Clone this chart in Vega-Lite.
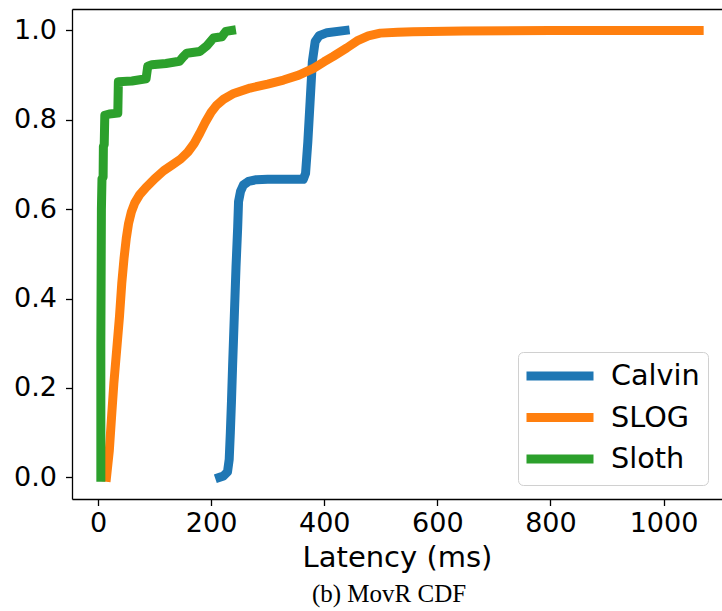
{
  "$schema": "https://vega.github.io/schema/vega-lite/v6.json",
  "width": 650,
  "height": 490,
  "autosize": {"type": "none"},
  "padding": {"left": 72, "top": 9, "right": 0, "bottom": 112},
  "background": "white",
  "config": {
    "view": {"stroke": null},
    "axis": {
      "domainColor": "#000000",
      "domainWidth": 1.3,
      "tickColor": "#000000",
      "tickWidth": 1.3,
      "tickSize": 6.5,
      "grid": false,
      "labelFont": "DejaVu Sans",
      "labelFontSize": 27,
      "labelColor": "#000000",
      "titleFont": "DejaVu Sans",
      "titleFontSize": 29,
      "titleFontWeight": "normal",
      "titleColor": "#000000"
    }
  },
  "title": {
    "text": "(b) MovR CDF",
    "orient": "bottom",
    "anchor": "middle",
    "font": "Liberation Serif",
    "fontSize": 25,
    "fontWeight": "normal",
    "color": "#000000",
    "offset": 9,
    "dx": -8
  },
  "data": {
    "values": [
      {"s": "Calvin", "i": 0, "x": 215, "p": 0.0},
      {"s": "Calvin", "i": 1, "x": 222, "p": 0.003},
      {"s": "Calvin", "i": 2, "x": 229, "p": 0.012},
      {"s": "Calvin", "i": 3, "x": 232, "p": 0.04},
      {"s": "Calvin", "i": 4, "x": 234, "p": 0.10},
      {"s": "Calvin", "i": 5, "x": 236, "p": 0.17},
      {"s": "Calvin", "i": 6, "x": 238, "p": 0.25},
      {"s": "Calvin", "i": 7, "x": 241, "p": 0.36},
      {"s": "Calvin", "i": 8, "x": 244, "p": 0.47},
      {"s": "Calvin", "i": 9, "x": 247, "p": 0.56},
      {"s": "Calvin", "i": 10, "x": 248.5, "p": 0.617},
      {"s": "Calvin", "i": 11, "x": 252, "p": 0.64},
      {"s": "Calvin", "i": 12, "x": 257, "p": 0.654},
      {"s": "Calvin", "i": 13, "x": 266, "p": 0.662},
      {"s": "Calvin", "i": 14, "x": 280, "p": 0.666},
      {"s": "Calvin", "i": 15, "x": 300, "p": 0.667},
      {"s": "Calvin", "i": 16, "x": 363, "p": 0.667},
      {"s": "Calvin", "i": 17, "x": 367, "p": 0.68},
      {"s": "Calvin", "i": 18, "x": 371, "p": 0.75},
      {"s": "Calvin", "i": 19, "x": 375, "p": 0.84},
      {"s": "Calvin", "i": 20, "x": 379, "p": 0.93},
      {"s": "Calvin", "i": 21, "x": 384, "p": 0.975},
      {"s": "Calvin", "i": 22, "x": 391, "p": 0.988},
      {"s": "Calvin", "i": 23, "x": 405, "p": 0.995},
      {"s": "Calvin", "i": 24, "x": 437, "p": 1.0},
      {"s": "SLOG", "i": 0, "x": 15, "p": 0.0},
      {"s": "SLOG", "i": 1, "x": 20, "p": 0.06},
      {"s": "SLOG", "i": 2, "x": 24, "p": 0.136},
      {"s": "SLOG", "i": 3, "x": 28, "p": 0.21},
      {"s": "SLOG", "i": 4, "x": 33, "p": 0.285},
      {"s": "SLOG", "i": 5, "x": 38, "p": 0.36},
      {"s": "SLOG", "i": 6, "x": 42, "p": 0.434},
      {"s": "SLOG", "i": 7, "x": 46, "p": 0.49},
      {"s": "SLOG", "i": 8, "x": 50, "p": 0.535},
      {"s": "SLOG", "i": 9, "x": 54, "p": 0.568},
      {"s": "SLOG", "i": 10, "x": 59, "p": 0.594},
      {"s": "SLOG", "i": 11, "x": 65, "p": 0.614},
      {"s": "SLOG", "i": 12, "x": 74, "p": 0.633},
      {"s": "SLOG", "i": 13, "x": 86, "p": 0.65},
      {"s": "SLOG", "i": 14, "x": 100, "p": 0.668},
      {"s": "SLOG", "i": 15, "x": 116, "p": 0.686},
      {"s": "SLOG", "i": 16, "x": 131, "p": 0.699},
      {"s": "SLOG", "i": 17, "x": 146, "p": 0.712},
      {"s": "SLOG", "i": 18, "x": 159, "p": 0.728},
      {"s": "SLOG", "i": 19, "x": 170, "p": 0.747},
      {"s": "SLOG", "i": 20, "x": 180, "p": 0.77},
      {"s": "SLOG", "i": 21, "x": 190, "p": 0.795},
      {"s": "SLOG", "i": 22, "x": 200, "p": 0.817},
      {"s": "SLOG", "i": 23, "x": 210, "p": 0.833},
      {"s": "SLOG", "i": 24, "x": 222, "p": 0.846},
      {"s": "SLOG", "i": 25, "x": 240, "p": 0.859},
      {"s": "SLOG", "i": 26, "x": 269, "p": 0.871},
      {"s": "SLOG", "i": 27, "x": 300, "p": 0.88},
      {"s": "SLOG", "i": 28, "x": 328, "p": 0.889},
      {"s": "SLOG", "i": 29, "x": 355, "p": 0.90},
      {"s": "SLOG", "i": 30, "x": 381, "p": 0.915},
      {"s": "SLOG", "i": 31, "x": 400, "p": 0.93},
      {"s": "SLOG", "i": 32, "x": 416, "p": 0.942},
      {"s": "SLOG", "i": 33, "x": 440, "p": 0.961},
      {"s": "SLOG", "i": 34, "x": 460, "p": 0.978},
      {"s": "SLOG", "i": 35, "x": 478, "p": 0.988},
      {"s": "SLOG", "i": 36, "x": 499, "p": 0.994},
      {"s": "SLOG", "i": 37, "x": 530, "p": 0.996},
      {"s": "SLOG", "i": 38, "x": 557, "p": 0.997},
      {"s": "SLOG", "i": 39, "x": 646, "p": 0.999},
      {"s": "SLOG", "i": 40, "x": 800, "p": 1.0},
      {"s": "SLOG", "i": 41, "x": 1063, "p": 1.0},
      {"s": "Sloth", "i": 0, "x": 5, "p": 0.0},
      {"s": "Sloth", "i": 1, "x": 5, "p": 0.3},
      {"s": "Sloth", "i": 2, "x": 6, "p": 0.6},
      {"s": "Sloth", "i": 3, "x": 7, "p": 0.668},
      {"s": "Sloth", "i": 4, "x": 9, "p": 0.672},
      {"s": "Sloth", "i": 5, "x": 9.5, "p": 0.74},
      {"s": "Sloth", "i": 6, "x": 11, "p": 0.745},
      {"s": "Sloth", "i": 7, "x": 12, "p": 0.81},
      {"s": "Sloth", "i": 8, "x": 20, "p": 0.813},
      {"s": "Sloth", "i": 9, "x": 35, "p": 0.815},
      {"s": "Sloth", "i": 10, "x": 36, "p": 0.885},
      {"s": "Sloth", "i": 11, "x": 60, "p": 0.887},
      {"s": "Sloth", "i": 12, "x": 85, "p": 0.892},
      {"s": "Sloth", "i": 13, "x": 88, "p": 0.92},
      {"s": "Sloth", "i": 14, "x": 95, "p": 0.923},
      {"s": "Sloth", "i": 15, "x": 120, "p": 0.926},
      {"s": "Sloth", "i": 16, "x": 144, "p": 0.931},
      {"s": "Sloth", "i": 17, "x": 150, "p": 0.94},
      {"s": "Sloth", "i": 18, "x": 157, "p": 0.949},
      {"s": "Sloth", "i": 19, "x": 180, "p": 0.953},
      {"s": "Sloth", "i": 20, "x": 192, "p": 0.965},
      {"s": "Sloth", "i": 21, "x": 204, "p": 0.983},
      {"s": "Sloth", "i": 22, "x": 219, "p": 0.986},
      {"s": "Sloth", "i": 23, "x": 226, "p": 0.998},
      {"s": "Sloth", "i": 24, "x": 236, "p": 1.0}
    ]
  },
  "layer": [
    {
      "mark": {"type": "line", "strokeWidth": 9, "strokeCap": "square", "strokeJoin": "round"},
      "encoding": {
        "x": {
          "field": "x", "type": "quantitative",
          "scale": {"domain": [-46, 1103.4], "nice": false, "zero": false},
          "axis": {"values": [0, 200, 400, 600, 800, 1000], "format": "d", "title": "Latency (ms)", "labelPadding": 5, "titlePadding": 7, "labelFlush": false, "labelOverlap": false}
        },
        "y": {
          "field": "p", "type": "quantitative",
          "scale": {"domain": [-0.0486, 1.048], "nice": false, "zero": false},
          "axis": {"values": [0, 0.2, 0.4, 0.6, 0.8, 1.0], "format": ".1f", "title": null, "labelPadding": 9, "labelFlush": false, "labelOverlap": false}
        },
        "color": {
          "field": "s", "type": "nominal",
          "scale": {"domain": ["Calvin", "SLOG", "Sloth"], "range": ["#1f77b4", "#ff7f0e", "#2ca02c"]},
          "legend": {
            "orient": "none", "legendX": 446, "legendY": 343,
            "title": null, "symbolType": "M-3,0H3", "symbolSize": 499, "symbolStrokeWidth": 9,
            "symbolOffset": 18,
            "labelFont": "DejaVu Sans", "labelFontSize": 28.7, "labelColor": "#000000",
            "labelOffset": 35, "rowPadding": 5.5, "padding": 8,
            "fillColor": "white", "strokeColor": "#d0d0d0", "cornerRadius": 5
          }
        },
        "order": {"field": "i", "type": "quantitative"}
      }
    },
    {
      "mark": {"type": "point", "opacity": 0},
      "encoding": {
        "x": {
          "field": "x", "type": "quantitative",
          "axis": {"orient": "top", "labels": false, "ticks": false, "title": null, "domain": true}
        }
      }
    }
  ],
  "resolve": {"axis": {"x": "independent"}}
}
